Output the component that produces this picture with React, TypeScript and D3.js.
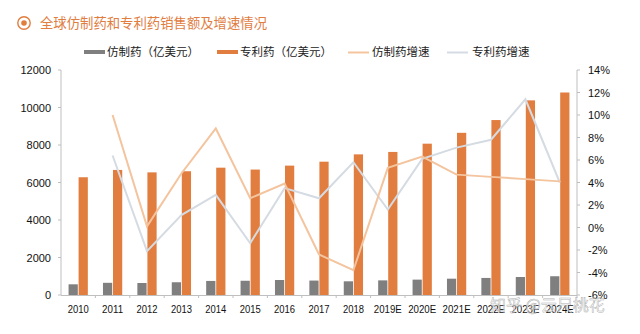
import React from "react";
import * as d3 from "d3";

const categories = ["2010","2011","2012","2013","2014","2015","2016","2017","2018","2019E","2020E","2021E","2022E","2023E","2024E"];
const genericSales = [570,650,640,680,750,760,800,770,730,780,820,870,910,960,1000];
const patentSales = [6280,6670,6540,6600,6790,6690,6900,7110,7500,7630,8070,8650,9330,10380,10800];
const genericGrowth: (number|null)[] = [null,10.0,0.1,4.8,8.8,2.6,3.9,-2.4,-3.8,5.3,6.3,4.7,4.5,4.3,4.1];
const patentGrowth: (number|null)[] = [null,6.4,-2.1,1.1,2.9,-1.4,3.5,2.6,5.8,1.6,6.1,7.1,7.8,11.4,4.0];
const leftTicks = [0,2000,4000,6000,8000,10000,12000];
const rightTicks = [-6,-4,-2,0,2,4,6,8,10,12,14];

const W = 640, H = 334;
const X0 = 61, X1 = 577, Y0 = 295, Y1 = 70;
const ORANGE = "#E17D3F";
const GREY = "#7F7F7F";
const LORANGE = "#F3C49E";
const LGREY = "#D5DBE2";
const AXIS = "#BFBFBF";
const numFont = "'Liberation Sans', Arial, sans-serif";
const cjkFont = "'Noto Sans CJK SC', sans-serif";

export default function App() {
  const x = d3.scaleBand<string>().domain(categories).range([X0, X1]).paddingInner(0.44).paddingOuter(0.22);
  const sub = d3.scaleBand<string>().domain(["g","p"]).range([0, x.bandwidth()]).paddingInner(0.08);
  const yL = d3.scaleLinear().domain([0, 12000]).range([Y0, Y1]);
  const yR = d3.scaleLinear().domain([-6, 14]).range([Y0, Y1]);
  const cx = (c: string) => (x(c) as number) + x.bandwidth() / 2;
  const mkLine = (vals: (number|null)[]) =>
    d3.line<number|null>()
      .defined(v => v !== null)
      .x((_, i) => cx(categories[i]))
      .y(v => yR(v as number))(vals) as string;

  const step = x.step();
  return (
    <div style={{ position: "fixed", left: 0, top: 0, width: W, height: H, background: "#fff" }}>
      <svg width={W} height={H} style={{ display: "block" }}>
        <rect width={W} height={H} fill="#fff" />
        {/* title */}
        <circle cx={24} cy={23} r={6.2} fill="none" stroke={ORANGE} strokeWidth={1.4} />
        <circle cx={24} cy={23} r={2.8} fill={ORANGE} />
        <text x={40} y={28} fontFamily={cjkFont} fontSize={13.5} fill={ORANGE} textLength={227} lengthAdjust="spacingAndGlyphs">全球仿制药和专利药销售额及增速情况</text>

        {/* legend */}
        <rect x={84} y={50} width={21} height={4} fill={GREY} />
        <text x={107} y={56} fontFamily={cjkFont} fontSize={11.5} fill="#222">仿制药（亿美元）</text>
        <rect x={217} y={50} width={21} height={4} fill={ORANGE} />
        <text x={240} y={56} fontFamily={cjkFont} fontSize={11.5} fill="#222">专利药（亿美元）</text>
        <line x1={348} x2={369} y1={52.5} y2={52.5} stroke={LORANGE} strokeWidth={2} />
        <text x={372} y={56} fontFamily={cjkFont} fontSize={11.5} fill="#222">仿制药增速</text>
        <line x1={447} x2={468} y1={52.5} y2={52.5} stroke={LGREY} strokeWidth={2} />
        <text x={472} y={56} fontFamily={cjkFont} fontSize={11.5} fill="#222">专利药增速</text>

        {/* axes */}
        <line x1={X0} x2={X0} y1={Y1} y2={Y0} stroke={AXIS} />
        <line x1={X1} x2={X1} y1={Y1} y2={Y0} stroke={AXIS} />
        <line x1={X0} x2={X1} y1={Y0 + 0.5} y2={Y0 + 0.5} stroke={AXIS} />
        {leftTicks.map(t => (
          <g key={"l" + t}>
            <line x1={X0 - 3} x2={X0} y1={yL(t)} y2={yL(t)} stroke={AXIS} />
            <text x={51} y={yL(t) + 4} textAnchor="end" fontFamily={numFont} fontSize={11} fill="#111">{t}</text>
          </g>
        ))}
        {rightTicks.map(t => (
          <g key={"r" + t}>
            <line x1={X1} x2={X1 + 3} y1={yR(t)} y2={yR(t)} stroke={AXIS} />
            <text x={588} y={yR(t) + 4} fontFamily={numFont} fontSize={11} fill="#111">{t}%</text>
          </g>
        ))}
        {categories.map((c, i) => (
          <line key={"xt" + c} x1={X0 + step * (i + 1)} x2={X0 + step * (i + 1)} y1={Y0} y2={Y0 + 3} stroke={AXIS} />
        ))}
        {categories.map(c => (
          <text key={"xl" + c} x={cx(c)} y={313} textAnchor="middle" fontFamily={numFont} fontSize={11.5} fill="#111"
            textLength={c.length > 4 ? 28 : 21} lengthAdjust="spacingAndGlyphs">{c}</text>
        ))}

        {/* bars */}
        {categories.map((c, i) => (
          <g key={"b" + c}>
            <rect x={(x(c) as number) + (sub("g") as number)} y={yL(genericSales[i])} width={sub.bandwidth()} height={Y0 - yL(genericSales[i])} fill={GREY} />
            <rect x={(x(c) as number) + (sub("p") as number)} y={yL(patentSales[i])} width={sub.bandwidth()} height={Y0 - yL(patentSales[i])} fill={ORANGE} />
          </g>
        ))}

        {/* lines */}
        <path d={mkLine(patentGrowth)} fill="none" stroke={LGREY} strokeWidth={2} />
        <path d={mkLine(genericGrowth)} fill="none" stroke={LORANGE} strokeWidth={2} />

        {/* watermark */}
        <text x={490} y={311} fontFamily={cjkFont} fontSize={16} fill="#fff" fillOpacity={0.55} stroke="#9a9a9a" strokeWidth={0.5} strokeOpacity={0.8}>知乎 @云尺桃花</text>
      </svg>
    </div>
  );
}
